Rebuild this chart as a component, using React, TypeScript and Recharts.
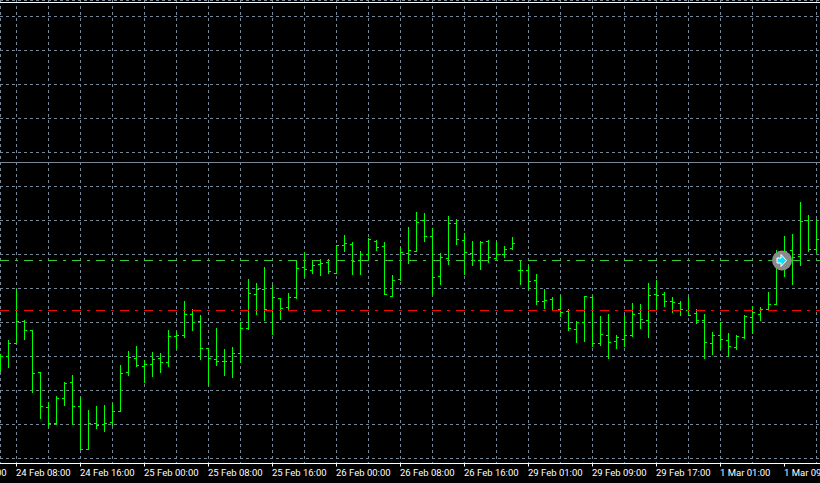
import React from "react";
import {
  ComposedChart,
  Bar,
  XAxis,
  YAxis,
  CartesianGrid,
  ReferenceLine,
  ReferenceDot,
} from "recharts";

// hourly bars, 24 Feb 06:00 .. 1 Mar 12:00
const openP = [
  1.0935, 1.0944, 1.0957, 1.0979, 1.097, 1.0928, 1.0893, 1.0877, 1.0902, 1.0918,
  1.0894, 1.0851, 1.0877, 1.0876, 1.0878, 1.0889, 1.0928, 1.0942, 1.0934, 1.0936,
  1.0942, 1.0938, 1.0964, 1.0965, 1.0986, 1.0979, 1.0952, 1.0941, 1.0939, 1.0939,
  1.0947, 1.0972, 1.1006, 1.1011, 1.099, 1.1002, 1.0993, 1.1003, 1.1033, 1.103,
  1.1036, 1.1038, 1.1027, 1.1055, 1.1056, 1.104, 1.1046, 1.1059, 1.1054, 1.1004,
  1.1021, 1.1047, 1.1049, 1.108, 1.1064, 1.1024, 1.1042, 1.1077, 1.106, 1.1047,
  1.104, 1.1059, 1.1042, 1.1046, 1.1052, 1.103, 1.103, 1.102, 1.0999, 1.1001,
  1.0991, 1.0989, 1.0971, 1.0978, 1.1003, 1.0957, 1.0965, 1.0959, 1.0961, 1.0965,
  1.0987, 1.098, 1.1006, 1.1006, 1.0999, 1.0997, 1.099, 1.0987, 1.098, 1.0957,
  1.0965, 1.096, 1.0953, 1.0963, 1.0983, 1.0986, 1.0991, 1.0996, 1.1042, 1.105,
  1.1044, 1.108, 1.1051,
];
const highP = [
  1.0946, 1.096, 1.1011, 1.098, 1.097, 1.0928, 1.0898, 1.0904, 1.0918, 1.0925,
  1.0903, 1.089, 1.0894, 1.0895, 1.0897, 1.0935, 1.0949, 1.0954, 1.094, 1.0948,
  1.0947, 1.097, 1.0968, 1.0999, 1.0991, 1.0985, 1.0952, 1.0972, 1.0951, 1.0953,
  1.0978, 1.1021, 1.1017, 1.1033, 1.1015, 1.1002, 1.1007, 1.104, 1.1048, 1.1039,
  1.1041, 1.1041, 1.1055, 1.1065, 1.1058, 1.1049, 1.1062, 1.106, 1.1058, 1.1025,
  1.1053, 1.1073, 1.1088, 1.1087, 1.1072, 1.1047, 1.1084, 1.1081, 1.1067, 1.1059,
  1.1059, 1.106, 1.1058, 1.1054, 1.1063, 1.1039, 1.1035, 1.1026, 1.1011, 1.1003,
  1.1004, 1.0991, 1.0979, 1.1004, 1.1004, 1.0984, 1.0986, 1.0965, 1.0985, 1.0997,
  1.0996, 1.1017, 1.102, 1.1008, 1.1003, 1.0999, 1.1003, 1.0991, 1.0986, 1.0968,
  1.0978, 1.0967, 1.0965, 1.0985, 1.0994, 1.0993, 1.1008, 1.105, 1.1064, 1.1066,
  1.1098, 1.1085, 1.1081,
];
const lowP = [
  1.0929, 1.0933, 1.0957, 1.0961, 1.0908, 1.0882, 1.0874, 1.0876, 1.0895, 1.0876,
  1.0851, 1.0851, 1.0872, 1.0869, 1.0875, 1.0889, 1.0925, 1.0934, 1.0918, 1.0924,
  1.0928, 1.0934, 1.0952, 1.0963, 1.097, 1.0941, 1.0915, 1.0935, 1.0925, 1.0923,
  1.0938, 1.0971, 1.0986, 1.098, 1.0966, 1.0981, 1.099, 1.1002, 1.1024, 1.1027,
  1.1025, 1.1027, 1.1027, 1.1049, 1.1026, 1.1026, 1.104, 1.105, 1.1006, 1.1004,
  1.102, 1.1037, 1.1049, 1.1059, 1.1006, 1.1016, 1.1036, 1.1056, 1.1026, 1.1035,
  1.1031, 1.1038, 1.1042, 1.1043, 1.1051, 1.1016, 1.1012, 1.0996, 1.0992, 1.099,
  1.0984, 1.097, 1.0958, 1.0959, 1.0954, 1.0955, 1.0942, 1.0952, 1.0954, 1.0964,
  1.0972, 1.0963, 1.099, 1.0994, 1.0988, 1.0985, 1.0985, 1.0977, 1.0942, 1.0946,
  1.0951, 1.0944, 1.0951, 1.0962, 1.0967, 1.098, 1.099, 1.0996, 1.1024, 1.1016,
  1.1035, 1.1049, 1.1048,
];
const closeP = [
  1.0944, 1.0957, 1.0979, 1.097, 1.0927, 1.0894, 1.0877, 1.0902, 1.0917, 1.0894,
  1.0851, 1.0877, 1.0875, 1.0877, 1.0889, 1.0927, 1.0943, 1.0935, 1.0936, 1.0941,
  1.0938, 1.0964, 1.0965, 1.0986, 1.0978, 1.0952, 1.0942, 1.0939, 1.0939, 1.0947,
  1.0972, 1.1007, 1.1011, 1.0991, 1.1003, 1.0992, 1.1003, 1.1032, 1.1031, 1.1035,
  1.1037, 1.1029, 1.1055, 1.1057, 1.1039, 1.1046, 1.1061, 1.1053, 1.1006, 1.102,
  1.1048, 1.105, 1.1078, 1.1064, 1.1023, 1.1043, 1.1077, 1.1061, 1.1048, 1.104,
  1.1058, 1.1043, 1.1046, 1.1051, 1.1057, 1.103, 1.1019, 1.0999, 1.1, 1.099,
  1.0988, 1.0972, 1.0978, 1.1004, 1.0957, 1.0966, 1.0958, 1.0963, 1.0965, 1.0986,
  1.0981, 1.1005, 1.1005, 1.0999, 1.0998, 1.0991, 1.0985, 1.098, 1.0958, 1.0965,
  1.0961, 1.0954, 1.0964, 1.0984, 1.0988, 1.0991, 1.0996, 1.1042, 1.1049, 1.1043,
  1.1079, 1.1051, 1.1061,
];

const labelIdx = [-6, 2, 10, 18, 26, 34, 42, 50, 58, 66, 74, 82, 90, 98];
const timeLabels = [
  "24 Feb 00:00", "24 Feb 08:00", "24 Feb 16:00", "25 Feb 00:00", "25 Feb 08:00",
  "25 Feb 16:00", "26 Feb 00:00", "26 Feb 08:00", "26 Feb 16:00", "29 Feb 01:00",
  "29 Feb 09:00", "29 Feb 17:00", "1 Mar 01:00", "1 Mar 09:00",
];
const gridIdx = [
  2, 6, 10, 14, 18, 22, 26, 30, 34, 38, 42, 46, 50, 54, 58, 62, 66, 70, 74, 78,
  82, 86, 90, 94, 98, 102,
];
const gridPrices = [
  1.1284, 1.125, 1.1216, 1.1182, 1.1148, 1.1114, 1.108, 1.1046, 1.1012, 1.0978,
  1.0944, 1.091, 1.0876, 1.0842,
];

const frameLevel = 1.1298;
const hLineLevel = 1.1138;
const bidLevel = 1.104;
const stopLevel = 1.099;
const markerIdx = 97.69;

const data = openP.map((o, i) => ({
  i,
  o,
  h: highP[i],
  l: lowP[i],
  c: closeP[i],
  range: [lowP[i], highP[i]],
}));

const GRID = "#778899";

const OhlcShape = (props: any) => {
  const { x, y, width, height, payload } = props;
  if (x == null || y == null) return null;
  const cx = x + width / 2;
  const top = Math.min(y, y + height);
  const bot = Math.max(y, y + height);
  const span = payload.h - payload.l || 1;
  const at = (v: number) => top + ((payload.h - v) / span) * (bot - top);
  const yo = at(payload.o);
  const yc = at(payload.c);
  return (
    <g stroke="#00ff00" strokeWidth={1} shapeRendering="crispEdges">
      <line x1={cx} x2={cx} y1={top - 0.5} y2={bot + 0.5} />
      <line x1={cx - 2.5} x2={cx - 0.5} y1={yo} y2={yo} />
      <line x1={cx + 0.5} x2={cx + 2.5} y1={yc} y2={yc} />
    </g>
  );
};

const TimeTick = (props: any) => {
  const { x, y, payload } = props;
  const k = labelIdx.indexOf(payload.value);
  return (
    <text
      x={x - 0.5}
      y={y + 7}
      fill="#ffffff"
      fontSize={9.5}
      fontFamily="Roboto, 'Liberation Sans', sans-serif"
      textAnchor="start"
    >
      {k >= 0 ? timeLabels[k] : ""}
    </text>
  );
};

const Marker = (props: any) => {
  const { cx, cy } = props;
  return (
    <g>
      <circle cx={cx} cy={cy} r={10} fill="#8a8a8a" />
      <path
        d={`M${cx - 5},${cy - 2.5} h4 v-3.5 l5.5,6 l-5.5,6 v-3.5 h-4 z`}
        fill="#00e5ff"
        stroke="#ffffff"
        strokeWidth={1}
      />
    </g>
  );
};

export default function App() {
  return (
    <div style={{ width: 820, height: 483, background: "#000" }}>
      <style>{"body{margin:0;background:#000}"}</style>
      <ComposedChart
        width={820}
        height={483}
        data={data}
        margin={{ top: 0, right: 0, bottom: 0, left: 0 }}
        style={{ background: "#000" }}
      >
        <XAxis
          xAxisId="grid"
          type="number"
          dataKey="i"
          domain={[-0.0625, 102.4375]}
          ticks={gridIdx}
          allowDataOverflow
          hide
        />
        <XAxis
          type="number"
          dataKey="i"
          domain={[-0.0625, 102.4375]}
          ticks={labelIdx}
          interval={0}
          allowDataOverflow
          height={19.5}
          axisLine={{ stroke: "#ffffff" }}
          tickLine={{ stroke: "#ffffff" }}
          tickSize={3}
          tick={<TimeTick />}
        />
        <YAxis
          type="number"
          domain={[1.0837, 1.13005]}
          ticks={gridPrices}
          allowDataOverflow
          hide
          width={0}
        />
        <CartesianGrid
          xAxisId="grid"
          stroke={GRID}
          strokeDasharray="3 3"
          shapeRendering="crispEdges"
        />
        <ReferenceLine y={frameLevel} stroke="#ffffff" shapeRendering="crispEdges" />
        <ReferenceLine y={hLineLevel} stroke={GRID} shapeRendering="crispEdges" />
        <ReferenceLine
          y={bidLevel}
          stroke="#32cd32"
          strokeDasharray="9 6 3 6"
          shapeRendering="crispEdges"
        />
        <ReferenceLine
          y={stopLevel}
          stroke="#ff0000"
          strokeDasharray="9 6 3 6"
          shapeRendering="crispEdges"
        />
        <Bar
          dataKey="range"
          barSize={1}
          shape={<OhlcShape />}
          isAnimationActive={false}
        />
        <ReferenceDot x={markerIdx} y={bidLevel} r={10} shape={<Marker />} />
      </ComposedChart>
    </div>
  );
}
